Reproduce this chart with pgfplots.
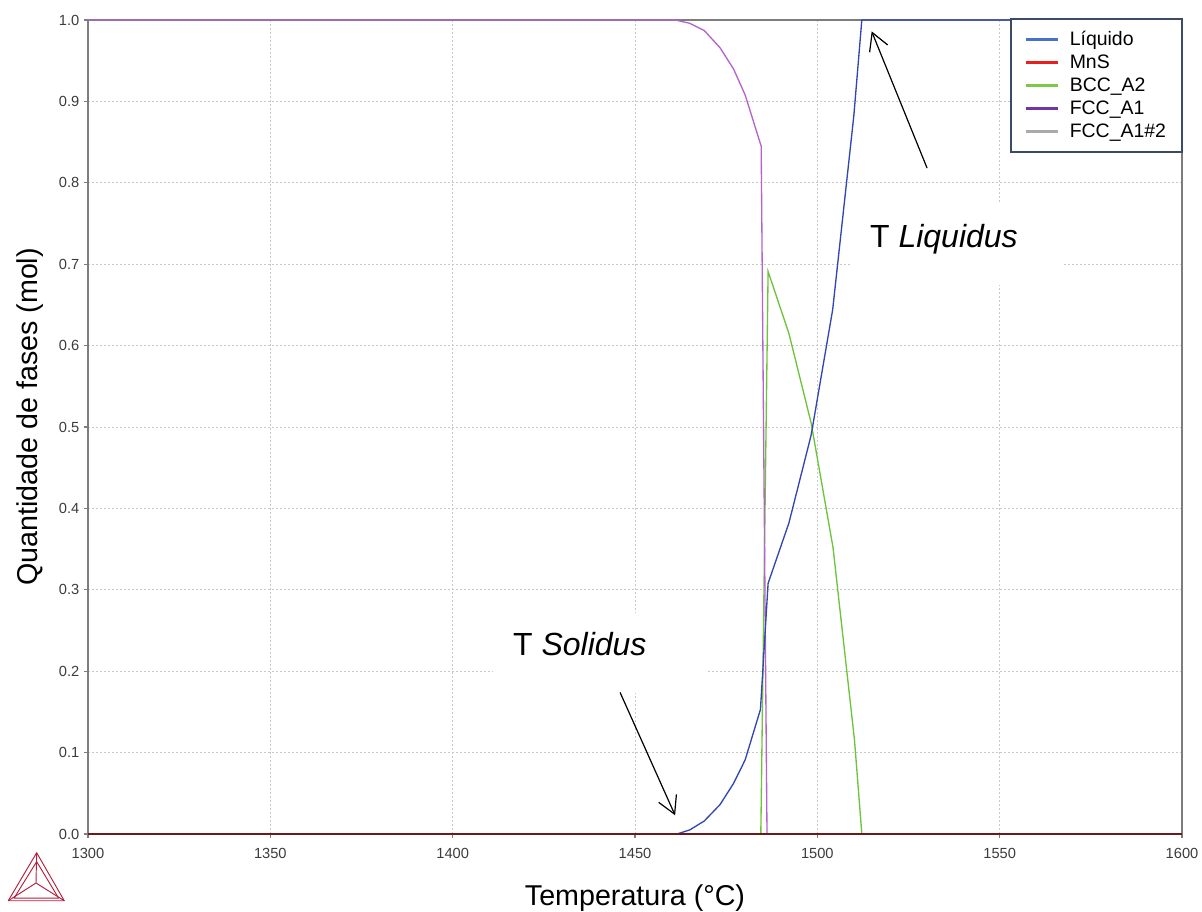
\documentclass[border=0pt]{standalone}
\usepackage{fontspec}
\setmainfont{Liberation Sans}
\usepackage{pgfplots}
\usepackage{pgfplotstable}
\pgfplotsset{compat=1.18}
\usetikzlibrary{arrows.meta}

\definecolor{liqc}{RGB}{50,70,175}
\definecolor{liqleg}{RGB}{70,115,200}
\definecolor{mnsc}{RGB}{110,25,25}
\definecolor{mnsleg}{RGB}{235,30,30}
\definecolor{bccc}{RGB}{110,195,60}
\definecolor{bccleg}{RGB}{125,200,70}
\definecolor{fccc}{RGB}{180,100,205}
\definecolor{fccleg}{RGB}{110,55,165}
\definecolor{fcctwo}{RGB}{170,170,170}
\definecolor{axc}{RGB}{125,125,125}
\definecolor{gridc}{RGB}{200,200,200}
\definecolor{legbd}{RGB}{60,75,100}
\definecolor{logoc}{RGB}{180,30,60}
\definecolor{tickc}{RGB}{60,60,60}

\pgfplotstableread{
T q
1300 0
1461.5 0
1465 0.005
1469 0.016
1473.3 0.036
1477 0.062
1480.2 0.091
1484.4 0.153
1486.5 0.308
1492.2 0.382
1498.3 0.490
1504.2 0.644
1510.0 0.882
1512.2 1.0
1600 1.0
}\liquid

\pgfplotstableread{
T q
1300 1
1461 1
1465 0.996
1469 0.987
1473.3 0.966
1477 0.940
1480.2 0.908
1484.6 0.845
1486.2 0
1600 0
}\fcc

\pgfplotstableread{
T q
1300 0
1484.5 0
1486.5 0.691
1492.2 0.615
1498.3 0.505
1504.3 0.352
1510.2 0.115
1512.2 0
1600 0
}\bcc

\pgfplotstableread{
T q
1300 0
1600 0
}\mns

\pgfplotstableread{
T q
1300 0
1600 0
}\fcctwotab

\begin{document}
\begin{tikzpicture}
\useasboundingbox (0,0) rectangle (901.5pt,683.25pt);
\begin{axis}[
  at={(66pt,57.75pt)}, anchor=south west,
  width=820.5pt, height=610.5pt, scale only axis,
  xmin=1300, xmax=1600, ymin=0, ymax=1,
  xtick={1300,1350,1400,1450,1500,1550,1600},
  ytick={0,0.1,0.2,0.3,0.4,0.5,0.6,0.7,0.8,0.9,1.0},
  grid=major,
  major grid style={gridc, dash pattern=on 1.5pt off 1.5pt, line width=0.6pt},
  axis line style={axc, line width=1.3pt},
  tick style={axc, line width=0.8pt},
  tick align=outside, tick pos=left, major tick length=3pt,
  ticklabel style={font=\fontsize{11}{13}\selectfont, text=tickc},
  /pgf/number format/assume math mode=true,
  scaled ticks=false,
  xticklabel style={/pgf/number format/1000 sep={}, yshift=-4pt},
  yticklabel style={/pgf/number format/fixed, /pgf/number format/fixed zerofill, /pgf/number format/precision=1},
  xlabel={Temperatura (°C)},
  ylabel={Quantidade de fases (mol)},
  every axis x label/.style={at={(axis description cs:0.5,-0.0881)}, anchor=base, font=\fontsize{21.5}{26}\selectfont},
  every axis y label/.style={at={(axis description cs:-0.053,0.5123)}, anchor=center, rotate=90, font=\fontsize{21.5}{26}\selectfont},
  legend style={at={(rel axis cs:1,1)}, anchor=north east, xshift=0.75pt, yshift=1.5pt,
    draw=legbd, line width=1.4pt, fill=white, font=\fontsize{14.6}{17}\selectfont,
    inner xsep=10pt, inner ysep=7.5pt, row sep=1.4pt, cells={anchor=west}},
  legend image code/.code={\draw[#1, line width=2.2pt] (0pt,0pt) -- (24pt,0pt); \path (30pt,0pt);},
]
\fill[white] (axis cs:1509,0.674) rectangle (axis cs:1567.1,0.775);
\fill[white] (axis cs:1411.1,0.173) rectangle (axis cs:1469.7,0.2715);

\addplot[fcctwo, line width=1pt, forget plot] table[x=T,y=q] {\fcctwotab};
\addplot[bccc, line width=1pt, forget plot] table[x=T,y=q] {\bcc};
\addplot[fccc, line width=1pt, forget plot] table[x=T,y=q] {\fcc};
\addplot[liqc, line width=1pt, forget plot] table[x=T,y=q] {\liquid};
\addplot[mnsc, line width=1.2pt, forget plot] table[x=T,y=q] {\mns};

\addlegendimage{liqleg}\addlegendentry{Líquido}
\addlegendimage{mnsleg}\addlegendentry{MnS}
\addlegendimage{bccleg}\addlegendentry{BCC\_A2}
\addlegendimage{fccleg}\addlegendentry{FCC\_A1}
\addlegendimage{fcctwo}\addlegendentry{FCC\_A1\#2}

\node[font=\fontsize{24}{28}\selectfont, anchor=base west, inner sep=0pt] at (axis cs:1514.4,0.7199) {T \textit{Liquidus}};
\node[font=\fontsize{24}{28}\selectfont, anchor=base west, inner sep=0pt] at (axis cs:1416.5,0.2199) {T \textit{Solidus}};

\draw[-{Straight Barb[length=13pt,width=14.6pt]}, line width=0.9pt] (axis cs:1530.1,0.818) -- (axis cs:1514.9,0.986);
\draw[-{Straight Barb[length=13pt,width=14.6pt]}, line width=0.9pt] (axis cs:1445.9,0.174) -- (axis cs:1461,0.023);
\end{axis}

\begin{scope}[logoc, line width=0.7pt, line join=round]
\draw (27.5pt,43.7pt) -- (6.2pt,7.7pt) -- (48.2pt,7.7pt) -- cycle;
\draw (27.5pt,37pt) -- (10.5pt,9.6pt) -- (44pt,9.6pt) -- cycle;
\draw (27pt,21pt) -- (27.5pt,43.7pt);
\draw (27pt,21pt) -- (6.2pt,7.7pt);
\draw (27pt,21pt) -- (48.2pt,7.7pt);
\end{scope}
\end{tikzpicture}
\end{document}
